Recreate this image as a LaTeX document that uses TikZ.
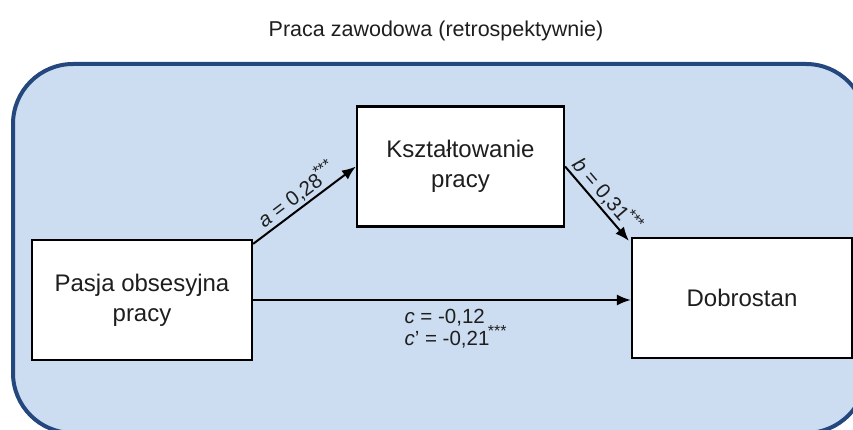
\documentclass[tikz,border=0pt]{standalone}
\usepackage{fontspec}
\setmainfont{Liberation Sans}
\usetikzlibrary{arrows.meta}
\definecolor{bgfill}{HTML}{CCDDF1}
\definecolor{bgline}{HTML}{24477E}
\definecolor{txt}{HTML}{1E1E1E}
\newcommand{\stars}{\kern-1.5pt\raisebox{0.4em}{\fontsize{16}{16}\selectfont ***}}
\tikzset{
  boxnode/.style={draw=black, fill=white, line width=2.2pt, inner sep=0pt,
    minimum height=120pt, align=center, text=txt,
    font=\fontsize{24}{30}\selectfont},
  arr/.style={-{Latex[length=14pt,width=11pt]}, line width=2pt, black},
  lab/.style={text=txt, font=\fontsize{20.5}{24}\selectfont},
}
\begin{document}
\begin{tikzpicture}[x=1pt,y=-1pt]
\useasboundingbox (0,0) rectangle (853,430);
\clip (0,0) rectangle (853,430);
\node[lab, anchor=base, font=\fontsize{21.5}{24}\selectfont] (title) at (436,37) {Praca zawodowa (retrospektywnie)};
\draw[bgline, line width=4pt, fill=bgfill, rounded corners=60pt] (13,64) rectangle (866,433);
\node[boxnode, minimum width=220pt] (pasja) at (142,300) {Pasja obsesyjna\\pracy};
\node[boxnode, minimum width=207pt] (kszt) at (460.5,166.5) {Kształtowanie\\pracy};
\node[boxnode, minimum width=220pt] (dobro) at (742,298) {Dobrostan};
\draw[arr] ([yshift=-5pt]pasja.north east) -- node[lab, sloped, above, inner sep=2pt] {\textit{a} = 0,28\stars} (kszt.west);
\draw[arr] (kszt.east) -- node[lab, sloped, above, inner sep=2pt] {\textit{b} = 0,31\stars} ([xshift=-2pt,yshift=-4pt]dobro.north west);
\draw[arr] (pasja.east) -- (pasja.east -| dobro.west);
\node[lab, anchor=base west] (c1) at (401,323) {\textit{c} = -0,12};
\node[lab, anchor=base west] (c2) at (401,345) {\textit{c}’ = -0,21\stars};
\end{tikzpicture}
\end{document}
